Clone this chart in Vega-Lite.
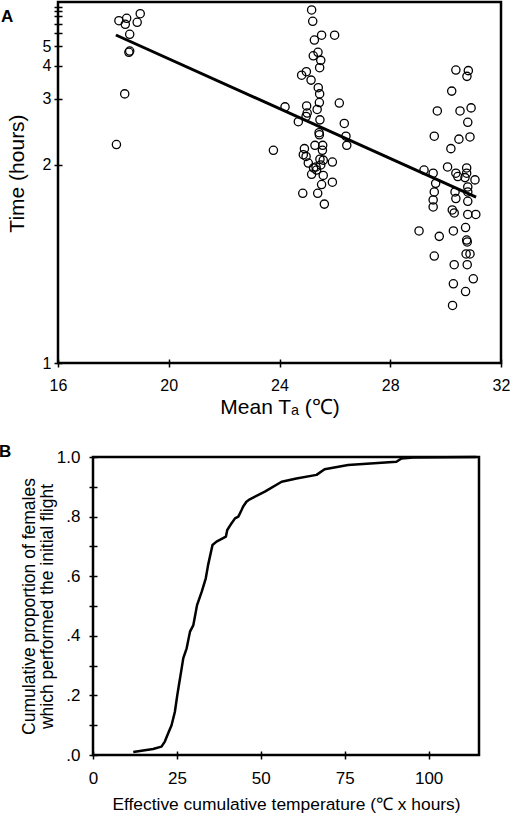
{
  "$schema": "https://vega.github.io/schema/vega-lite/v6.json",
  "background": "white",
  "padding": {"left": -3, "top": -3, "right": 0, "bottom": 0},
  "columns": 1,
  "bounds": "flush",
  "spacing": 94,
  "config": {
    "font": "Liberation Sans",
    "view": {"stroke": "black", "strokeWidth": 2.5},
    "axis": {"grid": false, "tickColor": "black", "tickWidth": 1.5, "labelColor": "black", "titleColor": "black", "titleFontWeight": "normal", "labelFlush": false, "labelOverlap": false, "domain": false, "offset": -4, "tickSize": 8}
  },
  "concat": [
    {
      "width": 443,
      "height": 361,
      "title": {"text": "A", "anchor": "start", "frame": "group", "fontSize": 17, "fontWeight": "bold", "offset": 0, "dx": -57, "dy": 40, "baseline": "alphabetic", "color": "black"},
      "encoding": {
        "x": {"field": "temp", "type": "quantitative", "scale": {"domain": [16, 32], "nice": false, "zero": false},
          "axis": {"values": [16, 20, 24, 28, 32], "title": "Mean Tₐ (℃)", "labelFontSize": 16, "titleFontSize": 21, "labelPadding": 10, "titlePadding": 3}},
        "y": {"field": "time", "type": "quantitative", "scale": {"type": "pow", "exponent": -1, "domain": [1, 11.3], "nice": false, "zero": false},
          "axis": {"values": [1, 2, 3, 4, 5, 6, 7, 8, 9, 10], "labelExpr": "datum.value <= 5 ? datum.label : ''", "title": "Time (hours)", "labelFontSize": 16, "titleFontSize": 21, "labelPadding": 3, "titleX": -45, "titleY": 171, "titleBaseline": "middle"}}
      },
      "layer": [
        {
          "data": {"values": [
            {"temp": 18.20, "time": 7.37}, {"temp": 18.48, "time": 7.72}, {"temp": 18.43, "time": 6.91}, {"temp": 18.86, "time": 7.16}, {"temp": 18.97, "time": 8.48},
            {"temp": 18.59, "time": 5.88}, {"temp": 18.56, "time": 4.64}, {"temp": 18.59, "time": 4.71}, {"temp": 18.41, "time": 3.12}, {"temp": 18.11, "time": 2.23},
            {"temp": 25.16, "time": 9.21}, {"temp": 25.20, "time": 7.29}, {"temp": 25.52, "time": 5.80}, {"temp": 25.26, "time": 5.42}, {"temp": 25.99, "time": 5.80},
            {"temp": 25.39, "time": 4.64}, {"temp": 25.22, "time": 4.46}, {"temp": 25.49, "time": 4.24}, {"temp": 25.45, "time": 3.93}, {"temp": 24.97, "time": 3.78},
            {"temp": 24.80, "time": 3.66}, {"temp": 25.14, "time": 3.50}, {"temp": 25.40, "time": 3.28}, {"temp": 25.45, "time": 3.12}, {"temp": 26.16, "time": 2.91},
            {"temp": 24.20, "time": 2.83}, {"temp": 24.98, "time": 2.85}, {"temp": 25.44, "time": 2.92}, {"temp": 25.36, "time": 2.78}, {"temp": 25.00, "time": 2.71},
            {"temp": 24.96, "time": 2.65}, {"temp": 24.68, "time": 2.56}, {"temp": 25.46, "time": 2.59}, {"temp": 25.43, "time": 2.39}, {"temp": 25.44, "time": 2.36},
            {"temp": 23.78, "time": 2.16}, {"temp": 25.28, "time": 2.22}, {"temp": 25.56, "time": 2.22}, {"temp": 25.55, "time": 2.16}, {"temp": 24.90, "time": 2.18},
            {"temp": 24.86, "time": 2.11}, {"temp": 24.96, "time": 2.09}, {"temp": 25.46, "time": 2.06}, {"temp": 25.58, "time": 2.05}, {"temp": 25.91, "time": 2.03},
            {"temp": 25.04, "time": 2.02}, {"temp": 25.32, "time": 1.98}, {"temp": 25.49, "time": 2.00}, {"temp": 25.23, "time": 1.97}, {"temp": 25.34, "time": 1.95},
            {"temp": 25.16, "time": 1.91}, {"temp": 25.58, "time": 1.90}, {"temp": 25.91, "time": 1.84}, {"temp": 25.52, "time": 1.82}, {"temp": 24.84, "time": 1.75},
            {"temp": 25.38, "time": 1.75}, {"temp": 25.62, "time": 1.67}, {"temp": 26.34, "time": 2.53}, {"temp": 26.40, "time": 2.34}, {"temp": 26.43, "time": 2.22},
            {"temp": 30.37, "time": 3.84}, {"temp": 30.82, "time": 3.82}, {"temp": 30.77, "time": 3.62}, {"temp": 30.22, "time": 3.19}, {"temp": 29.70, "time": 2.75},
            {"temp": 30.52, "time": 2.75}, {"temp": 30.92, "time": 2.81}, {"temp": 30.80, "time": 2.55}, {"temp": 29.59, "time": 2.34}, {"temp": 30.48, "time": 2.30},
            {"temp": 30.88, "time": 2.33}, {"temp": 30.19, "time": 2.18}, {"temp": 29.22, "time": 1.95}, {"temp": 29.55, "time": 1.92}, {"temp": 30.07, "time": 1.98},
            {"temp": 30.37, "time": 1.92}, {"temp": 30.44, "time": 1.89}, {"temp": 30.76, "time": 1.97}, {"temp": 30.76, "time": 1.92}, {"temp": 30.70, "time": 1.88},
            {"temp": 31.06, "time": 1.86}, {"temp": 29.64, "time": 1.83}, {"temp": 30.34, "time": 1.76}, {"temp": 30.80, "time": 1.80}, {"temp": 30.80, "time": 1.76},
            {"temp": 30.37, "time": 1.71}, {"temp": 30.80, "time": 1.69}, {"temp": 29.59, "time": 1.76}, {"temp": 29.55, "time": 1.70}, {"temp": 29.55, "time": 1.65},
            {"temp": 30.24, "time": 1.63}, {"temp": 30.31, "time": 1.61}, {"temp": 30.80, "time": 1.60}, {"temp": 31.09, "time": 1.60}, {"temp": 29.04, "time": 1.50},
            {"temp": 29.77, "time": 1.47}, {"temp": 30.28, "time": 1.50}, {"temp": 30.72, "time": 1.52}, {"temp": 30.76, "time": 1.45}, {"temp": 30.78, "time": 1.44},
            {"temp": 29.59, "time": 1.37}, {"temp": 30.74, "time": 1.38}, {"temp": 30.88, "time": 1.38}, {"temp": 30.31, "time": 1.33}, {"temp": 30.78, "time": 1.33},
            {"temp": 30.28, "time": 1.25}, {"temp": 31.00, "time": 1.27}, {"temp": 30.72, "time": 1.22}, {"temp": 30.25, "time": 1.17}
          ]},
          "mark": {"type": "point", "shape": "circle", "filled": false, "size": 68, "strokeWidth": 1.3, "color": "black", "opacity": 1}
        },
        {
          "data": {"values": [{"temp": 18.09, "time": 5.82}, {"temp": 31.1, "time": 1.72}]},
          "mark": {"type": "line", "color": "black", "strokeWidth": 3}
        }
      ]
    },
    {
      "hconcat": [
        {
          "width": 35,
          "height": 10,
          "view": {"stroke": null},
          "data": {"values": []},
          "mark": {"type": "point"}
        },
        {
          "width": 386,
          "height": 298,
          "title": {"text": "B", "anchor": "start", "frame": "group", "fontSize": 17, "fontWeight": "bold", "offset": 0, "dx": -94, "dy": 26, "baseline": "alphabetic", "color": "black"},
          "data": {"values": [
            {"ect": 12.0, "prop": 0.01}, {"ect": 17.9, "prop": 0.02}, {"ect": 20.4, "prop": 0.028}, {"ect": 21.4, "prop": 0.045}, {"ect": 22.4, "prop": 0.073},
            {"ect": 23.4, "prop": 0.10}, {"ect": 24.4, "prop": 0.145}, {"ect": 25.1, "prop": 0.20}, {"ect": 25.6, "prop": 0.235}, {"ect": 26.4, "prop": 0.29},
            {"ect": 26.9, "prop": 0.325}, {"ect": 27.9, "prop": 0.358}, {"ect": 28.9, "prop": 0.414}, {"ect": 29.9, "prop": 0.436}, {"ect": 31.0, "prop": 0.503},
            {"ect": 32.4, "prop": 0.548}, {"ect": 33.6, "prop": 0.593}, {"ect": 34.3, "prop": 0.638}, {"ect": 35.6, "prop": 0.705}, {"ect": 36.8, "prop": 0.716},
            {"ect": 39.6, "prop": 0.733}, {"ect": 40.0, "prop": 0.755}, {"ect": 41.3, "prop": 0.778}, {"ect": 42.3, "prop": 0.794}, {"ect": 43.3, "prop": 0.80},
            {"ect": 44.3, "prop": 0.823}, {"ect": 44.7, "prop": 0.833}, {"ect": 45.7, "prop": 0.85}, {"ect": 46.7, "prop": 0.858}, {"ect": 51.2, "prop": 0.884},
            {"ect": 56.2, "prop": 0.917}, {"ect": 60.6, "prop": 0.928}, {"ect": 66.6, "prop": 0.94}, {"ect": 69.0, "prop": 0.959}, {"ect": 76.0, "prop": 0.973},
            {"ect": 90.4, "prop": 0.984}, {"ect": 91.9, "prop": 0.995}, {"ect": 95.4, "prop": 0.998}, {"ect": 114.2, "prop": 1.0}
          ]},
          "mark": {"type": "line", "color": "black", "strokeWidth": 2.5, "strokeJoin": "round"},
          "encoding": {
            "x": {"field": "ect", "type": "quantitative", "scale": {"domain": [0, 115], "nice": false, "zero": false},
              "axis": {"values": [0, 25, 50, 75, 100], "title": "Effective cumulative temperature (℃ x hours)", "labelFontSize": 17, "titleFontSize": 17.4, "labelPadding": 11, "titlePadding": 9}},
            "y": {"field": "prop", "type": "quantitative", "scale": {"domain": [0, 1], "nice": false},
              "axis": {"values": [0, 0.1, 0.2, 0.3, 0.4, 0.5, 0.6, 0.7, 0.8, 0.9, 1], "labelExpr": "round(datum.value*10) % 2 == 1 ? '' : (datum.value >= 1 ? '1.0' : '.' + round(datum.value*10))",
                "title": ["Cumulative proportion of females", "which performed the initial flight"], "labelFontSize": 17, "titleFontSize": 17.5, "titleLineHeight": 18, "labelPadding": 9, "titleX": -68, "titleBaseline": "middle"}}
          }
        }
      ],
      "spacing": 0,
      "bounds": "flush"
    }
  ]
}
